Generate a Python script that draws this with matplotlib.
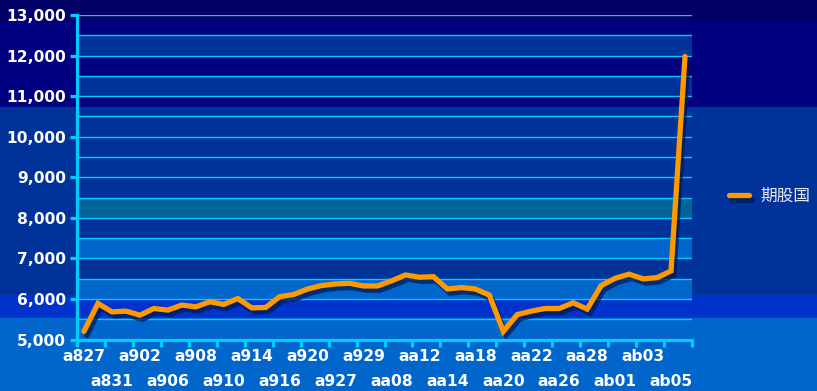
import numpy as np
import matplotlib
matplotlib.use("Agg")
import matplotlib.pyplot as plt
import matplotlib.patheffects as pe
from matplotlib.patches import Rectangle
from matplotlib.ticker import MultipleLocator, FuncFormatter

# values, one per trading point
values = [5200, 5890, 5680, 5700, 5600, 5765, 5725, 5850, 5805, 5930, 5865,
          6010, 5780, 5790, 6055, 6110, 6245, 6330, 6370, 6385, 6320, 6320,
          6445, 6590, 6535, 6550, 6245, 6280, 6245, 6095, 5200, 5615, 5700,
          5765, 5765, 5905, 5750, 6330, 6510, 6610, 6495, 6525, 6690, 11980]
# every second point carries a label
tick_labels = ["a827", "a831", "a902", "a906", "a908", "a910", "a914", "a916",
               "a920", "a927", "a929", "aa08", "aa12", "aa14", "aa18", "aa20",
               "aa22", "aa26", "aa28", "ab01", "ab03", "ab05"]
series_name = "期股国"

fig = plt.figure(figsize=(8.17, 3.91), dpi=100)

# figure background stripes (top -> bottom, in pixels)
stripes = [(0, 22, "#000066"), (22, 107, "#000080"), (107, 295, "#003399"),
           (295, 318, "#0033CC"), (318, 391, "#0066CC")]
for y0, y1, c in stripes:
    fig.add_artist(Rectangle((0, 1 - y1 / 391), 1, (y1 - y0) / 391,
                             transform=fig.transFigure, color=c, zorder=-10))

ax = fig.add_axes([77 / 817, 1 - 339.5 / 391, 615 / 817, 324.5 / 391])
ax.set_facecolor("none")

# alternating bands inside the plot area
band_colors = {5000: "#0066CC", 6000: "#0066CC", 7000: "#0066CC", 8000: "#006699",
               9000: "#003399", 10000: "#003399", 11000: "#003399", 12000: "#003399"}
for lo, c in band_colors.items():
    ax.axhspan(lo, lo + 500, color=c, zorder=0, lw=0)

x = np.arange(len(values))
ax.plot(x, values, color="#FF9900", lw=3.8, solid_joinstyle="miter",
        solid_capstyle="round", label=series_name, zorder=3,
        path_effects=[pe.SimpleLineShadow(offset=(2, -3), shadow_color="#001a55", alpha=0.75),
                      pe.Normal()])

ax.set_xlim(-0.5, len(values) - 0.5)
ax.set_ylim(5000, 13000)

ax.yaxis.set_major_locator(MultipleLocator(1000))
ax.yaxis.set_minor_locator(MultipleLocator(500))
ax.yaxis.set_major_formatter(FuncFormatter(lambda v, p: f"{int(v):,}"))
ax.grid(True, axis="y", which="both", color="#00CCFF", lw=1, zorder=1)

ax.set_xticks(np.arange(-0.5, len(values), 2))
ax.set_xticklabels([])
ax.set_xticks(np.arange(0, len(values), 2), minor=True)
ax.set_xticklabels(tick_labels, minor=True)

for s in ["top", "right"]:
    ax.spines[s].set_visible(False)
for s in ["left", "bottom"]:
    ax.spines[s].set_color("#00CCFF")
    ax.spines[s].set_linewidth(2.3)
    ax.spines[s].set_zorder(4)

ax.tick_params(axis="both", which="major", color="#00CCFF", width=2.3, length=5)
ax.tick_params(axis="y", which="minor", length=0)
ax.tick_params(axis="x", which="minor", length=0)
ax.tick_params(axis="y", which="major", pad=3)
# two rows of labels, alternating
for i, t in enumerate(ax.xaxis.get_minor_ticks()):
    t.set_pad(7 if i % 2 == 0 else 25)
for lab in ax.get_yticklabels() + ax.get_xticklabels(minor=True):
    lab.set_fontfamily("DejaVu Sans")
    lab.set_fontweight("bold")
    lab.set_fontsize(11.2)
    lab.set_color("white")

leg = ax.legend(loc="center left", bbox_to_anchor=(1.06, 0.44), frameon=False,
                borderaxespad=0, borderpad=0, handlelength=1.2, handletextpad=0.7,
                prop={"family": ["Noto Sans CJK SC", "DejaVu Sans"], "size": 12})
for t in leg.get_texts():
    t.set_color("#E6E6F5")

fig.savefig("out.png", dpi=100, facecolor="#0066CC")
